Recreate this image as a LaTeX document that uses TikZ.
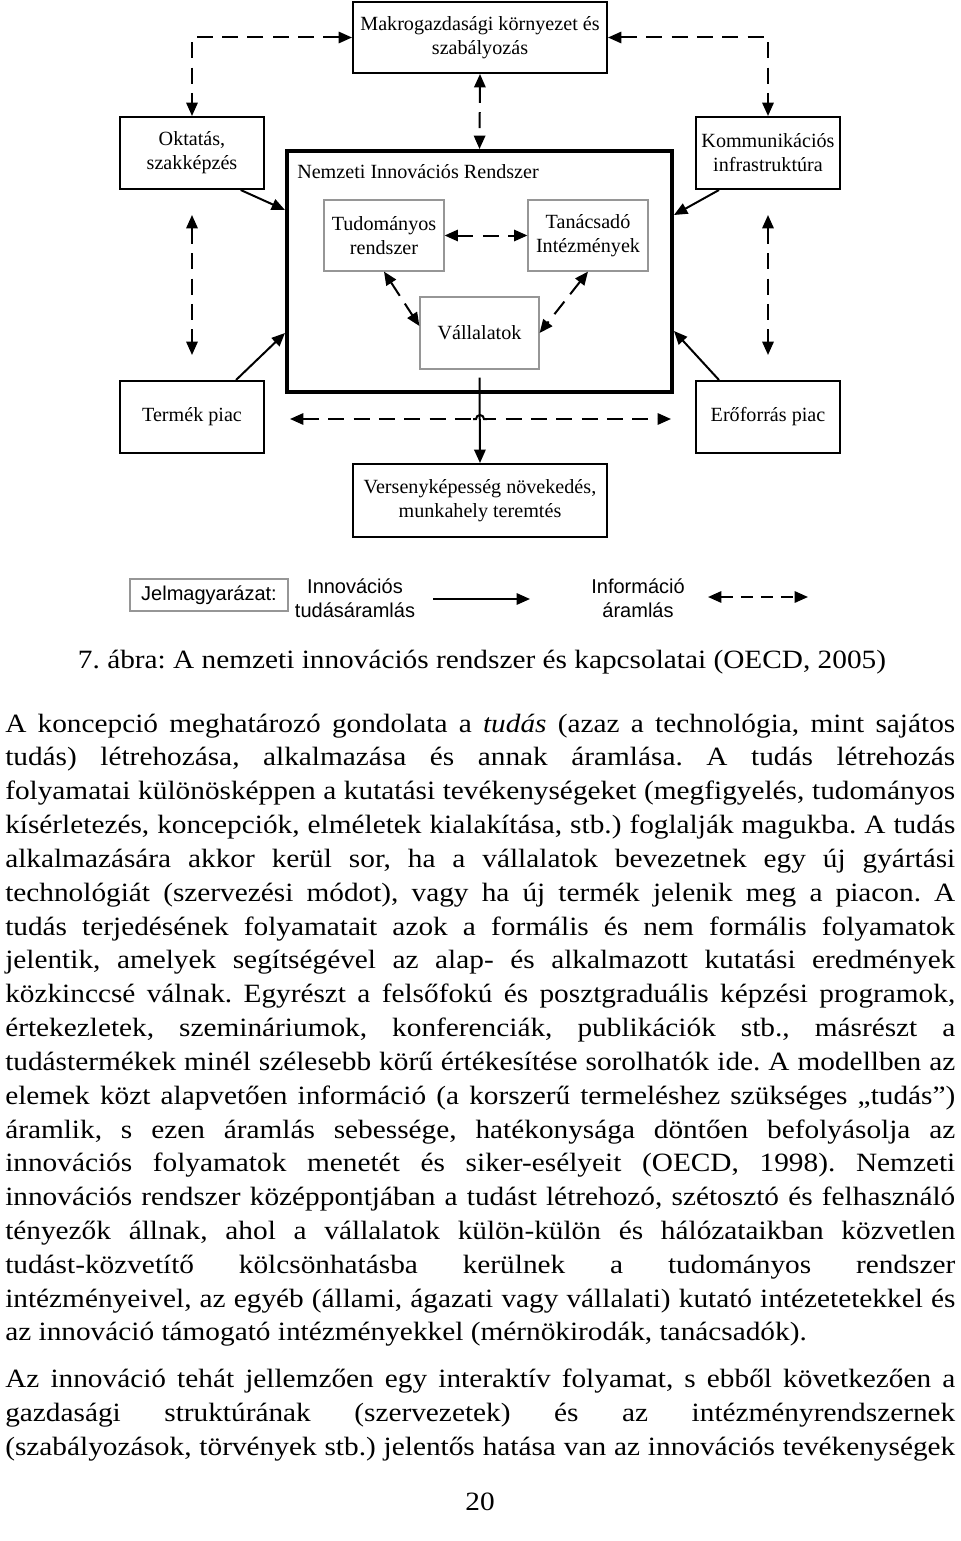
\documentclass[tikz,border=0pt]{standalone}
\usepackage{fontspec}
\setmainfont{Liberation Serif}
\newfontfamily\diagfont{Liberation Serif}
\newfontfamily\bodyfont{Liberation Serif}[FakeStretch=1.11]
\newfontfamily\legfont{Liberation Sans}
\usetikzlibrary{arrows.meta,calc}
\definecolor{boxgray}{RGB}{150,150,150}
\frenchspacing
\tikzset{
  dfont/.style={font=\diagfont\fontsize{15.1}{18}\selectfont},
  outerbox/.style={draw=black, line width=1.5pt, inner sep=0pt, align=center, dfont},
  innerbox/.style={draw=boxgray, line width=0.9pt, inner sep=0pt, align=center, dfont},
  nirbox/.style={draw=black, line width=3pt, inner sep=0pt},
  flow/.style={line width=1.5pt, -{Triangle[length=10pt,width=8.5pt]}},
  info/.style={line width=1.5pt, dash pattern=on 12pt off 7pt, {Triangle[length=10pt,width=8.5pt]}-{Triangle[length=10pt,width=8.5pt]}},
  legtext/.style={inner sep=0pt, align=center, font=\legfont\fontsize{15}{18}\selectfont},
  bodyline/.style={anchor=base west, inner sep=0pt, font=\bodyfont\fontsize{19.8}{25}\selectfont},
  bodyc/.style={anchor=base, inner sep=0pt, font=\bodyfont\fontsize{19.8}{25}\selectfont},
}
\newcommand{\jl}[1]{\makebox[712.5pt][s]{#1}}
\begin{document}
\begin{tikzpicture}[x=0.75pt,y=-0.75pt]
\fill[white] (0,0) rectangle (960,1541);
\useasboundingbox (0,0) rectangle (960,1541);

% ---------- diagram boxes ----------
\node[outerbox, minimum width=190.5pt, minimum height=53.25pt] (makro) at (480,37.5) {Makrogazdasági környezet és\\szabályozás};
\node[outerbox, minimum width=108pt, minimum height=54pt] (okt) at (192,153) {Oktatás,\\szakképzés};
\node[outerbox, minimum width=108pt, minimum height=54pt] (komm) at (768,153) {Kommunikációs\\infrastruktúra};
\node[nirbox, minimum width=288.75pt, minimum height=180.75pt] (nir) at (479.5,271.5) {};
\node[anchor=base west, inner sep=0pt, dfont] (nirtitle) at (297,178) {Nemzeti Innovációs Rendszer};
\node[innerbox, minimum width=90pt, minimum height=53.25pt] (tud) at (384,235.5) {Tudományos\\rendszer};
\node[innerbox, minimum width=90pt, minimum height=53.25pt] (tan) at (588,235.5) {Tanácsadó\\Intézmények};
\node[innerbox, minimum width=89.25pt, minimum height=54pt] (vall) at (479.5,333) {Vállalatok};
\node[outerbox, minimum width=108pt, minimum height=54pt] (termek) at (192,417) {Termék piac};
\node[outerbox, minimum width=108pt, minimum height=54pt] (ero) at (768,417) {Erőforrás piac};
\node[outerbox, minimum width=190.5pt, minimum height=54.75pt] (verseny) at (480,500.5) {Versenyképesség növekedés,\\munkahely teremtés};

% ---------- information flows (dashed) ----------
\draw[info] (makro.west) -| (okt.north);
\draw[info] (makro.east) -| (komm.north);
\draw[info] (makro.south) -- (nir.north);
\draw[info] ($(okt.south)+(0,25)$) -- ($(termek.north)+(0,-25)$);
\draw[info] ($(komm.south)+(0,25)$) -- ($(ero.north)+(0,-25)$);
\draw[info] (tud.east) -- (tan.west);
\draw[info] (tud.south) -- ($(vall.west)+(0,-7)$);
\draw[info] (tan.south) -- (vall.east);
\coordinate (hl) at ($(termek.east)+(25,2)$);
\coordinate (hr) at ($(ero.west)+(-24,2)$);
\draw[info] (hl) -- (hr);
\fill[white] (473,413) rectangle (487,423);
\draw[line width=1.5pt] (473,419) -- (476,419) arc (180:360:4) -- (487,419);

% ---------- knowledge flows (solid) ----------
\draw[flow] ($(okt.south)!0.667!(okt.south east)$) -- ($(nir.north west)+(0,61)$);
\draw[flow] ($(komm.south)+(-49,0)$) -- ($(nir.north east)+(0,66)$);
\draw[flow] ($(termek.north)+(44,0)$) -- ($(nir.north west)+(0,184)$);
\draw[flow] ($(ero.north)+(-49,0)$) -- ($(nir.north east)+(0,182)$);
\draw[flow] ($(vall.south)+(0,8)$) -- (verseny.north);

% ---------- legend ----------
\node[draw=boxgray, line width=0.9pt, inner sep=0pt, minimum width=118.5pt, minimum height=24pt, font=\legfont\fontsize{15}{18}\selectfont] (jel) at (209,595) {Jelmagyarázat:};
\node[legtext] (legk) at (355,598) {Innovációs\\tudásáramlás};
\node[legtext] (legi) at (638,598) {Információ\\áramlás};
\coordinate (lk1) at (433,599);
\coordinate (lk2) at (530,599);
\coordinate (li1) at (708,597);
\coordinate (li2) at (808,597);
\draw[flow] (lk1) -- (lk2);
\draw[info, dash pattern=on 9pt off 6pt] (li1) -- (li2);

% ---------- caption ----------
\node[bodyc] (caption) at (482,668) {7. ábra: A nemzeti innovációs rendszer és kapcsolatai (OECD, 2005)};

% ---------- body text ----------
\node[bodyline] (l1) at (5,732) {\jl{A koncepció meghatározó gondolata a \textit{tudás} (azaz a technológia, mint sajátos}};
\node[bodyline] (l2) at (5,765.8) {\jl{tudás) létrehozása, alkalmazása és annak áramlása. A tudás létrehozás}};
\node[bodyline] (l3) at (5,799.7) {\jl{folyamatai különösképpen a kutatási tevékenységeket (megfigyelés, tudományos}};
\node[bodyline] (l4) at (5,833.5) {\jl{kísérletezés, koncepciók, elméletek kialakítása, stb.) foglalják magukba. A tudás}};
\node[bodyline] (l5) at (5,867.3) {\jl{alkalmazására akkor kerül sor, ha a vállalatok bevezetnek egy új gyártási}};
\node[bodyline] (l6) at (5,901.2) {\jl{technológiát (szervezési módot), vagy ha új termék jelenik meg a piacon. A}};
\node[bodyline] (l7) at (5,935.0) {\jl{tudás terjedésének folyamatait azok a formális és nem formális folyamatok}};
\node[bodyline] (l8) at (5,968.8) {\jl{jelentik, amelyek segítségével az alap- és alkalmazott kutatási eredmények}};
\node[bodyline] (l9) at (5,1002.6) {\jl{közkinccsé válnak. Egyrészt a felsőfokú és posztgraduális képzési programok,}};
\node[bodyline] (l10) at (5,1036.5) {\jl{értekezletek, szemináriumok, konferenciák, publikációk stb., másrészt a}};
\node[bodyline] (l11) at (5,1070.3) {\jl{tudástermékek minél szélesebb körű értékesítése sorolhatók ide. A modellben az}};
\node[bodyline] (l12) at (5,1104.1) {\jl{elemek közt alapvetően információ (a korszerű termeléshez szükséges „tudás”)}};
\node[bodyline] (l13) at (5,1138.0) {\jl{áramlik, s ezen áramlás sebessége, hatékonysága döntően befolyásolja az}};
\node[bodyline] (l14) at (5,1171.8) {\jl{innovációs folyamatok menetét és siker-esélyeit (OECD, 1998). Nemzeti}};
\node[bodyline] (l15) at (5,1205.6) {\jl{innovációs rendszer középpontjában a tudást létrehozó, szétosztó és felhasználó}};
\node[bodyline] (l16) at (5,1239.5) {\jl{tényezők állnak, ahol a vállalatok külön-külön és hálózataikban közvetlen}};
\node[bodyline] (l17) at (5,1273.3) {\jl{tudást-közvetítő kölcsönhatásba kerülnek a tudományos rendszer}};
\node[bodyline] (l18) at (5,1307.1) {\jl{intézményeivel, az egyéb (állami, ágazati vagy vállalati) kutató intézetetekkel és}};
\node[bodyline] (l19) at (5,1340.9) {az innováció támogató intézményekkel (mérnökirodák, tanácsadók).};
\node[bodyline] (l20) at (5,1387) {\jl{Az innováció tehát jellemzően egy interaktív folyamat, s ebből következően a}};
\node[bodyline] (l21) at (5,1421) {\jl{gazdasági struktúrának (szervezetek) és az intézményrendszernek}};
\node[bodyline] (l22) at (5,1455) {\jl{(szabályozások, törvények stb.) jelentős hatása van az innovációs tevékenységek}};
\node[bodyc] (pnum) at (480,1510) {20};
\end{tikzpicture}
\end{document}
